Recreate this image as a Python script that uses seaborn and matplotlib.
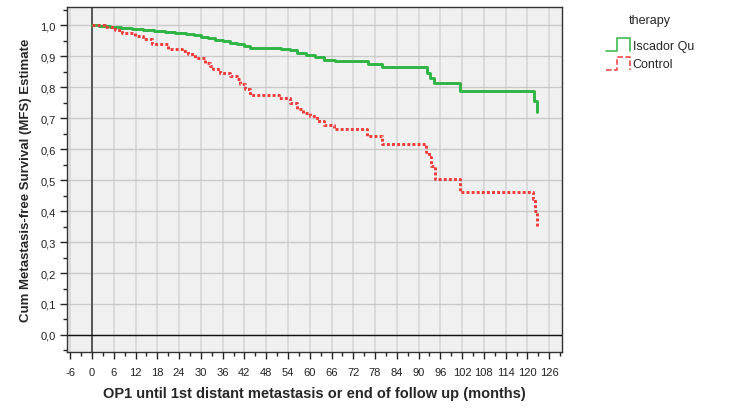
import matplotlib
matplotlib.use("Agg")
import numpy as np
import pandas as pd
import matplotlib.pyplot as plt
import seaborn as sns
from matplotlib.lines import Line2D
from matplotlib.legend_handler import HandlerLine2D
from matplotlib.ticker import MultipleLocator, FuncFormatter

# Kaplan-Meier step values
isc_months = [0, 2, 5, 8, 11, 14, 17, 20, 23, 26, 28, 30, 32, 34, 36, 38, 40, 42,
              43.5, 52, 54.5, 56.5, 59, 61.5, 64, 67, 76, 80, 92.3, 93.2, 94.3,
              101.5, 121.9, 122.6]
isc_surv = [1.0, 0.997, 0.994, 0.991, 0.988, 0.985, 0.982, 0.979, 0.976, 0.972,
            0.968, 0.963, 0.958, 0.953, 0.949, 0.944, 0.939, 0.932, 0.926, 0.923,
            0.919, 0.911, 0.904, 0.896, 0.889, 0.883, 0.874, 0.864, 0.847, 0.829,
            0.813, 0.789, 0.756, 0.72]

ctrl_months = [0, 3.6, 6.3, 8.2, 11.9, 14.1, 16.5, 21, 24.7, 26.5, 28.4, 31.2,
               32.5, 33.4, 35.3, 38, 39.9, 40.8, 42.2, 43.6, 51.4, 54.6, 56.4,
               58.2, 60.1, 62, 63.8, 66.7, 75.7, 80, 92.1, 93, 93.4, 94.4, 94.6,
               101.5, 121.4, 122.2, 122.6]
ctrl_surv = [1.0, 0.995, 0.986, 0.976, 0.965, 0.954, 0.938, 0.924, 0.916, 0.906,
             0.893, 0.879, 0.868, 0.857, 0.844, 0.836, 0.825, 0.809, 0.795, 0.776,
             0.765, 0.75, 0.728, 0.718, 0.707, 0.691, 0.679, 0.664, 0.642, 0.618,
             0.592, 0.573, 0.544, 0.521, 0.505, 0.462, 0.438, 0.40, 0.345]

groups = ["Iscador Qu", "Control"]
colors = {"Iscador Qu": "#2fb544", "Control": "#f03a3a"}

df = pd.concat([
    pd.DataFrame({"months": isc_months, "surv": isc_surv, "therapy": groups[0]}),
    pd.DataFrame({"months": ctrl_months, "surv": ctrl_surv, "therapy": groups[1]}),
])

sns.set_style("white")
plt.rcParams["font.family"] = ["Liberation Sans", "DejaVu Sans"]

fig = plt.figure(figsize=(7.47, 4.10), dpi=100)
ax = fig.add_axes([0.0897, 0.139, 0.663, 0.841])
ax.set_facecolor("#f0f0f0")

sns.lineplot(data=df, x="months", y="surv", hue="therapy", style="therapy",
             palette=colors, dashes={"Iscador Qu": "", "Control": (1, 0.75)},
             estimator=None, sort=False, drawstyle="steps-post", lw=2.1,
             legend=False, ax=ax, zorder=3)

ax.set_xlim(-6.9, 129.6)
ax.set_ylim(-0.055, 1.058)
ax.xaxis.set_major_locator(MultipleLocator(6))
ax.xaxis.set_minor_locator(MultipleLocator(3))
ax.yaxis.set_major_locator(MultipleLocator(0.1))
ax.yaxis.set_minor_locator(MultipleLocator(0.05))
ax.yaxis.set_major_formatter(FuncFormatter(lambda v, p: f"{v:.1f}".replace(".", ",")))
ax.xaxis.set_major_formatter(FuncFormatter(lambda v, p: f"{v:.0f}"))

ax.grid(True, which="major", axis="x", color="#dadada", lw=1.4, zorder=0)
ax.grid(True, which="major", axis="y", color="#cacaca", lw=1.0, zorder=0)
ax.set_axisbelow(True)

ax.axvline(0, color="#404040", lw=1.2, zorder=1)
ax.axhline(0, color="#111111", lw=1.0, zorder=1)

for s in ax.spines.values():
    s.set_color("#333333")
    s.set_linewidth(1.0)

ax.tick_params(which="major", direction="out", length=5, width=1, color="#222222",
               labelsize=8, labelcolor="#222222", bottom=True, left=True)
ax.tick_params(axis="x", which="major", pad=6)
ax.tick_params(axis="y", which="major", pad=3)
ax.tick_params(which="minor", direction="out", length=3, width=1, color="#222222",
               bottom=True, left=True)

ax.set_xlabel("OP1 until 1st distant metastasis or end of follow up (months)",
              fontsize=10.5, fontweight="bold", labelpad=6)
ax.set_ylabel("Cum Metastasis-free Survival (MFS) Estimate",
              fontsize=9.5, fontweight="bold", labelpad=6)


class StepHandler(HandlerLine2D):
    def create_artists(self, legend, orig_handle, xdescent, ydescent, width,
                       height, fontsize, trans):
        x0 = -xdescent
        y0 = -ydescent - 0.3 * height
        y1 = -ydescent + 1.15 * height
        xs = [x0, x0 + width * 0.48, x0 + width * 0.48, x0 + width, x0 + width]
        ys = [y0, y0, y1, y1, y0]
        ln = Line2D(xs, ys, color=orig_handle.get_color(), lw=1.1,
                    linestyle=orig_handle.get_linestyle())
        ln.set_transform(trans)
        return [ln]


handles = [Line2D([], [], color=colors["Iscador Qu"], ls="-"),
           Line2D([], [], color=colors["Control"], ls=(0, (2, 2)))]
leg = fig.legend(handles, groups, title="therapy", loc="upper left",
                 bbox_to_anchor=(0.796, 0.99), frameon=False, fontsize=9,
                 title_fontsize=9, handlelength=1.9, handletextpad=0.25,
                 labelspacing=0.55, handler_map={Line2D: StepHandler()})
leg._legend_box.sep = 9.5

fig.savefig("out.png", dpi=100)
